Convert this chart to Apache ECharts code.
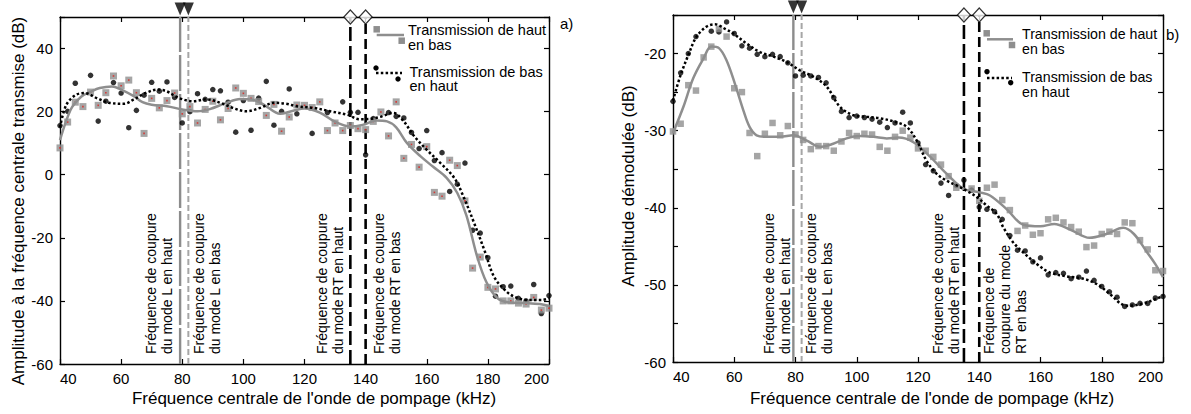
<!DOCTYPE html>
<html><head><meta charset="utf-8">
<script src="https://cdn.jsdelivr.net/npm/echarts@6/dist/echarts.min.js"></script>
<style>html,body{margin:0;padding:0;background:#fff}#c{width:1191px;height:414px}</style>
</head><body><div id="c"></div>
<script>
// ---------- DATA ----------
const freq = [40,42.5,45,47.5,50,52.5,55,57.5,60,62.5,65,67.5,70,72.5,75,77.5,80,82.5,85,87.5,90,92.5,95,97.5,100,102.5,105,107.5,110,112.5,115,117.5,120,122.5,125,127.5,130,132.5,135,137.5,140,142.5,145,147.5,150,152.5,155,157.5,160,162.5,165,167.5,170,172.5,175,177.5,180,182.5,185,187.5,190,192.5,195,197.5,200];

// a) amplitude at centre frequency (dB)
const aTopDown = [8.5,16.7,23,21.6,26.2,22,26,31.3,28.2,30,26,13.1,24.2,21.2,23.5,25.9,19.3,21.6,16.4,20.7,23.3,17.4,21,27.5,25.8,24.2,23.2,18.8,22.3,13.8,18.3,22.1,22,21.3,23.1,14,16.4,14,15.6,14.6,14.3,16.9,19.9,12.3,23.1,5.2,9.6,2.4,8.9,-5.6,-6.8,4.6,2.9,-8.3,-29.6,-26.1,-35.7,-36.2,-40,-40,-40.7,-41,-38.9,-42.9,-42.3];
const aBottomUp = [15.6,20.1,29,null,31.5,17,23.3,29.2,25.9,14.9,20.4,25.2,29.3,26.5,29.4,24.5,16.4,20,25.7,23.9,27,26.6,23,13.5,23.5,14.1,24.3,29.6,15.7,20.1,27.2,19.3,null,13.1,null,19.7,null,23.1,19.8,19.8,6.3,17.8,null,19.7,18.5,18,13.4,8.3,14,4.5,7,-5.3,-3,3.7,-17.6,-18.5,-26.3,-38.5,-35.5,-35.3,-39.2,-40,-34.8,-44,-38.3];

// b) demodulated amplitude (dB)
const bTopDown = [-30.1,-29.1,-24.1,-24.8,-20.5,-19.1,-16.8,-17.8,-24.5,-25,-30.3,-33.3,-30.4,-29,-30.6,-29.4,-30.5,-31.2,-32.4,-32,-32,-32.6,-31.4,-30.3,-30.7,-30.4,-30.5,-32.1,-32.6,-30.8,-30,-30.9,-32.3,-32.6,-33.4,-34.4,-35.9,-37.4,null,-37.5,-39.1,-37.4,-37,-39,-40.3,-43,-42.3,-43.5,-43.3,-41.5,-41.3,-41.9,-42.5,-43.1,-45.1,-44.9,-43.4,-43.1,-43.4,-41.9,-42,-44.2,-45.4,-48.1,-48.2];
const bBottomUp = [-26.2,-22.5,-20,-17.8,null,-17.1,-17.2,-15.9,-17.4,-19,-19.3,-20.1,-20.4,-20.1,-20.4,-21.2,-22.9,-22.8,-22.9,-23.1,-23.8,-25.7,-27.5,-28.3,-28.1,-28.3,-28.5,-28.9,-29.6,-29,-27.6,-29,-31.6,-34.4,-35.2,-36.8,-38.4,-37.1,-36.4,-37.7,-39.9,-40.2,-40.5,-41.5,-43.6,-45.5,-45.6,-47,-46.5,-48.7,-48.4,-48.5,-49.2,-49,-48.2,-49.4,-50.2,-50.9,-51.6,-52.8,-52.6,-52.4,-52.4,-51.7,-51.5];

// fitted curves
const aFitTopDownF = [40,42,44,47,50,53,57,60,64,67,70,75,80,85,89,94,99,103,107,112,116,120,125,130,135,139,143.5,147,150,153.5,158,162,166.5,170,173,176.5,179.5,183,187,193,197,200];
const aFitTopDownV = [11,17,21.5,24.8,26.3,27.5,28,27,25,23,22.2,21.7,20.7,20.1,20.8,22.6,24,23.8,22,19.3,20.2,21,19.7,16.8,15.3,15.8,17.2,16.9,15,10.1,5.8,2.6,-1,-5.8,-13,-26,-34,-39,-40.5,-40.7,-41,-41.6];
const aFitBottomUpF = [40,42,45,48,52,56,61,64,68,72,75,79,83.5,88,92.5,96.5,101,105.5,110,114,117.5,123,128.5,134,138,141.5,145,149,152.5,155.5,160,164.5,169,172,175.5,179,182,185.5,188.5,193,197.5,200];
const aFitBottomUpV = [15,22,25.2,25.9,24.3,22.8,22.5,23.8,25.9,27,26.4,24.3,23.3,23.9,22.8,21.2,20.1,21.2,22.8,22.5,21.7,21.2,20.1,19,17.6,17.7,18.4,19.6,16.9,12.7,7.9,3.7,-1,-6.9,-15.3,-24.3,-32.3,-36.5,-38.6,-39.7,-39.7,-39.2];
const bFitTopDownF = [40,43.4,46.6,50,52.5,55,57.5,60.2,63,65,67.3,70.5,75,79.3,83.7,88,92.3,96.7,101,105.4,109.8,113.6,118.5,124,129.4,134.8,140,143.5,149,154.4,160,164.5,170,176,181.5,187,190.5,194.5,197.5,200];
const bFitTopDownV = [-30.3,-26.9,-23.2,-20.6,-19.1,-19.3,-20.9,-23.9,-27.4,-29.5,-30.6,-30.8,-30.8,-30.6,-31.3,-32.1,-31.7,-31,-30.7,-30.8,-31,-30.9,-31.5,-33.4,-35.6,-37.5,-38,-38.4,-40.2,-42.2,-42.4,-42.1,-42.9,-43.9,-43.4,-42.6,-43.4,-45.6,-47.3,-49];
const bFitBottomUpF = [40,42.3,45,47.7,51,53.7,57,59.7,64,68.4,72.8,77.1,81.5,85.8,90.2,94.5,98.9,103.2,107.6,112,116.3,119.6,122.8,126.1,129.4,132.6,135.9,139.2,142.4,145.7,147.8,151.1,154.4,158.8,163.1,168.6,174,178.4,182.7,187,189.2,193.6,197.9,200];
const bFitBottomUpV = [-26.1,-23,-20.2,-17.8,-16.5,-16.2,-16.8,-17.4,-18.7,-19.8,-20.4,-21.1,-22.2,-23,-24.3,-26.9,-28,-28.2,-28.4,-28.8,-29.5,-31.3,-33.9,-35.6,-36.5,-37.1,-37.8,-38.6,-39.7,-40.8,-42.5,-44.5,-45.8,-47.3,-48.4,-48.9,-49.2,-49.9,-51.2,-52.6,-52.7,-52.4,-51.8,-51.4];

// cut-off frequencies (kHz): L top, L bottom, RT top, RT bottom
const cutoffL = [79.3, 82];
const cutoffRT = [135, 140];

// axis ranges / ticks
const xRange = [40, 200];
const aYRange = [-60, 50];
const bYRange = [-60, -15];

// texts
const xTitle = "Fréquence centrale de l'onde de pompage (kHz)";
const aYTitle = "Amplitude à la fréquence centrale transmise (dB)";
const bYTitle = "Amplitude démodulée (dB)";
const legTopDown = "Transmission de haut\nen bas";
const legBottomUp = "Transmission de bas\nen haut";
const aCutLabels = ["Fréquence de coupure\ndu mode L en haut","Fréquence de coupure\ndu mode L en bas","Fréquence de coupure\ndu mode RT en haut","Fréquence de coupure\ndu mode RT en bas"];
const bCutLabels = ["Fréquence de coupure\ndu mode L en haut","Fréquence de coupure\ndu mode L en bas","Fréquence de coupure\ndu mode RT en haut","Fréquence de\ncoupure du mode\nRT en bas"];

// ---------- CHART ----------
const FONT = "'Liberation Sans', Arial, Helvetica, sans-serif";
const GRAY = '#8e8e8e';
const pairs = (xs, ys) => xs.map((x, i) => [x, ys[i]]).filter(p => p[1] !== null && p[1] !== undefined);

const chart = echarts.init(document.getElementById('c'), null, {renderer: 'svg'});

const axLine = {lineStyle: {color: '#000', width: 1.4}, onZero: false};
const axTick = {inside: true, length: 5, lineStyle: {color: '#000', width: 1.2}};

function xAxesFor(gi) {
  const base = {type: 'value', gridIndex: gi, min: xRange[0], max: xRange[1], interval: 20, splitLine: {show: false}, axisLine: axLine, axisTick: axTick};
  return [
    Object.assign({}, base, {position: 'bottom', axisLabel: {fontSize: 15, color: '#000', fontFamily: FONT, margin: 7, alignMinLabel: 'left', alignMaxLabel: 'right'}}),
    Object.assign({}, base, {position: 'top', axisLabel: {show: false}})
  ];
}
function yAxesFor(gi, rng, interval, labelStep) {
  const base = {type: 'value', gridIndex: gi, min: rng[0], max: rng[1], interval: interval, splitLine: {show: false}, axisLine: axLine, axisTick: axTick};
  return [
    Object.assign({}, base, {position: 'left', axisLabel: {fontSize: 15, color: '#000', fontFamily: FONT, margin: 7, formatter: v => (Math.abs(v % labelStep) < 1e-9 ? String(v) : '')}}),
    Object.assign({}, base, {position: 'right', axisLabel: {show: false}})
  ];
}

function panelSeries(gi, yRng, topDown, bottomUp, fitTD_F, fitTD_V, fitBU_F, fitBU_V, sqSize, redCentres) {
  const xi = gi * 2, yi = gi * 2;
  const s = [];
  const vline = (x, color, width, dash) => ({
    type: 'line', xAxisIndex: xi, yAxisIndex: yi, data: [[x, yRng[0]], [x, yRng[1]]],
    symbol: 'none', silent: true, z: 1,
    lineStyle: {color: color, width: width, type: dash, cap: 'butt'}
  });
  s.push(vline(cutoffL[0], '#8c8c8c', 2.4, [36, 3]));
  s.push(vline(cutoffL[1], '#a6a6a6', 2, [6, 3]));
  s.push(vline(cutoffRT[0], '#000', 2.6, [14, 5]));
  s.push(vline(cutoffRT[1], '#000', 2.6, [10, 5]));
  s.push({type: 'scatter', xAxisIndex: xi, yAxisIndex: yi, data: pairs(freq, bottomUp), symbol: 'circle', symbolSize: 5.5, itemStyle: {color: '#000'}, z: 3, silent: true});
  s.push({type: 'scatter', xAxisIndex: xi, yAxisIndex: yi, data: pairs(freq, topDown), symbol: 'rect', symbolSize: sqSize, itemStyle: {color: GRAY}, z: 3, silent: true});
  if (redCentres) {
    s.push({type: 'scatter', xAxisIndex: xi, yAxisIndex: yi, data: pairs(freq, topDown), symbol: 'rect', symbolSize: 1.6, itemStyle: {color: '#e0201c'}, z: 3, silent: true});
  }
  s.push({type: 'line', xAxisIndex: xi, yAxisIndex: yi, data: pairs(fitTD_F, fitTD_V), symbol: 'none', smooth: 0.35, z: 4, silent: true, lineStyle: {color: GRAY, width: 2.5}});
  s.push({type: 'line', xAxisIndex: xi, yAxisIndex: yi, data: pairs(fitBU_F, fitBU_V), symbol: 'none', smooth: 0.35, z: 4, silent: true, lineStyle: {color: '#000', width: 2.5, type: [2.5, 2.3], cap: 'butt'}});
  s.push({type: 'scatter', xAxisIndex: xi, yAxisIndex: yi, data: cutoffL.map(x => [x, yRng[1]]), symbol: 'triangle', symbolRotate: 180, symbolSize: [11, 13], symbolOffset: [0, -8], clip: false, z: 6, itemStyle: {color: '#000'}, silent: true});
  s.push({type: 'scatter', xAxisIndex: xi, yAxisIndex: yi, data: cutoffRT.map(x => [x, yRng[1]]), symbol: 'diamond', symbolSize: [13, 14], clip: false, z: 6, itemStyle: {color: '#fff', borderColor: '#000', borderWidth: 1.2}, silent: true});
  return s;
}

const option = {
  animation: false,
  backgroundColor: '#fff',
  grid: [
    {left: 60, top: 17, width: 489, height: 347},
    {left: 673, top: 15, width: 490, height: 347}
  ],
  xAxis: xAxesFor(0).concat(xAxesFor(1)),
  yAxis: yAxesFor(0, aYRange, 20, 20).concat(yAxesFor(1, bYRange, 5, 10)),
  series: panelSeries(0, aYRange, aTopDown, aBottomUp, aFitTopDownF, aFitTopDownV, aFitBottomUpF, aFitBottomUpV, 7, true)
    .concat(panelSeries(1, bYRange, bTopDown, bBottomUp, bFitTopDownF, bFitTopDownV, bFitBottomUpF, bFitBottomUpV, 6.5, false))
};
chart.setOption(option);

// ---------- TEXT / LEGEND (graphic) ----------
function txt(x, y, text, size, opts) {
  opts = opts || {};
  return {
    type: 'text', x: x, y: y, rotation: opts.rot || 0, silent: true, z: 20,
    style: {text: text, fontSize: size, fontFamily: FONT, fill: '#000',
      align: opts.align || 'left', verticalAlign: opts.valign || 'middle',
      textAlign: opts.align || 'left', textVerticalAlign: opts.valign || 'middle',
      lineHeight: opts.lh || Math.round(size * 1.15)}
  };
}
const g = [];
// axis titles
g.push(txt(314, 398, xTitle, 17, {align: 'center'}));
g.push(txt(932, 398, xTitle, 17, {align: 'center'}));
g.push(txt(18, 201, aYTitle, 17, {align: 'center', rot: Math.PI / 2}));
g.push(txt(628, 186, bYTitle, 17, {align: 'center', rot: Math.PI / 2}));
// panel tags
g.push(txt(560, 23, 'a)', 15));
g.push(txt(1166, 34, 'b)', 15));

// cut-off labels (vertical, reading upwards)
function cutLabels(gi, labels, offsets, bottomY) {
  const xs = cutoffL.concat(cutoffRT);
  xs.forEach((x, i) => {
    const p = chart.convertToPixel({gridIndex: gi}, [x, 0]);
    const off = offsets[i];
    g.push(txt(p[0] + off, bottomY, labels[i], 14, {rot: Math.PI / 2, align: 'left', valign: off < 0 ? 'bottom' : 'top', lh: 16}));
  });
}
cutLabels(0, aCutLabels, [-5, 3, -4, 5], 354);
cutLabels(1, bCutLabels, [-0.5, 1, -2, 2], 354);

// legends
function legend(sq1, lineSeg, sq2, t1pos, dot1, dotSeg, dot2, t2pos, sqSize, lh, fs) {
  g.push({type: 'rect', shape: {x: sq1[0] - sqSize / 2, y: sq1[1] - sqSize / 2, width: sqSize, height: sqSize}, style: {fill: GRAY}, silent: true, z: 20});
  g.push({type: 'rect', shape: {x: sq2[0] - sqSize / 2, y: sq2[1] - sqSize / 2, width: sqSize, height: sqSize}, style: {fill: GRAY}, silent: true, z: 20});
  g.push({type: 'line', shape: {x1: lineSeg[0], y1: lineSeg[2], x2: lineSeg[1], y2: lineSeg[2]}, style: {stroke: GRAY, lineWidth: 2.5}, silent: true, z: 20});
  g.push({type: 'circle', shape: {cx: dot1[0], cy: dot1[1], r: 2.7}, style: {fill: '#000'}, silent: true, z: 20});
  g.push({type: 'circle', shape: {cx: dot2[0], cy: dot2[1], r: 2.7}, style: {fill: '#000'}, silent: true, z: 20});
  g.push({type: 'line', shape: {x1: dotSeg[0], y1: dotSeg[2], x2: dotSeg[1], y2: dotSeg[2]}, style: {stroke: '#000', lineWidth: 2.5, lineDash: [2.5, 2.3]}, silent: true, z: 20});
  g.push(txt(t1pos[0], t1pos[1] - lh / 2, legTopDown, fs, {valign: 'top', lh: lh}));
  g.push(txt(t2pos[0], t2pos[1] - lh / 2, legBottomUp, fs, {valign: 'top', lh: lh}));
}
legend([376.7, 29.3], [376.7, 404, 35], [401.7, 40.7], [408, 30], [376, 68], [376, 402, 73], [398, 79], [409.5, 71.7], 6.5, 14.5, 14.5);
legend([986.7, 33.3], [987, 1013, 39.3], [1012, 45], [1022, 34.3], [987, 71.7], [987, 1012, 78], [1010.7, 82.7], [1022, 76.7], 6.5, 15, 14.2);

chart.setOption({graphic: g});
</script>
</body></html>
